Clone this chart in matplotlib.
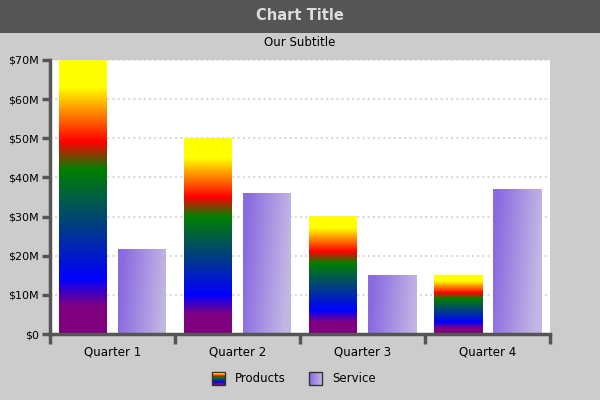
import numpy as np
import matplotlib
matplotlib.use('Agg')
import matplotlib.pyplot as plt
from matplotlib.colors import LinearSegmentedColormap, to_rgb
from matplotlib.patches import Rectangle
from matplotlib.image import BboxImage
from matplotlib.transforms import Bbox, TransformedBbox
from matplotlib.legend_handler import HandlerBase

# datos
quarters = ['Quarter 1', 'Quarter 2', 'Quarter 3', 'Quarter 4']
products = [70, 50, 30, 15]   # millones
service = [21.7, 35.8, 15, 37]
yticks = [0, 10, 20, 30, 40, 50, 60, 70]
ytick_labels = ['$0', '$10M', '$20M', '$30M', '$40M', '$50M', '$60M', '$70M']

plt.rcParams['font.family'] = ['DejaVu Sans']

# gradiente arcoiris vertical (abajo -> arriba)
rainbow = LinearSegmentedColormap.from_list('rainbow_bar', [
    (0.0, '#800080'), (0.1, '#800080'), (0.2, '#0000ff'),
    (0.6, '#008000'), (0.7, '#ff0000'), (0.9, '#ffff00'), (1.0, '#ffff00')])
c0 = np.array(to_rgb('#8a6ae0'))
c1 = np.array(to_rgb('#c2b6e4'))


def rainbow_img(n=256):
    return rainbow(np.linspace(0, 1, n))[:, None, :]


def service_img(hpx):
    xs = np.linspace(0, 1, 48)[None, :]
    ys = np.arange(max(int(hpx), 2))[:, None] / 274.0
    t = np.clip(1.05 * xs + 0.4 * ys - 0.1, 0, 1)
    img = c0[None, None, :] * (1 - t[..., None]) + c1[None, None, :] * t[..., None]
    return img


fig = plt.figure(figsize=(6, 4), dpi=100, facecolor='#cccccc')
ax = fig.add_axes([50/600, 66/400, 500/600, 274/400])
ax.set_facecolor('white')

# barra de titulo
fig.patches.append(Rectangle((0, 367/400), 1, 33/400, transform=fig.transFigure,
                             facecolor='#555555', edgecolor='none', zorder=0))
fig.text(0.5, 385/400, 'Chart Title', ha='center', va='center', color='#dddddd',
         fontsize=10.5, fontweight='bold')
fig.text(0.5, 358/400, 'Our Subtitle', ha='center', va='center', color='black', fontsize=8.5)

x = np.arange(len(quarters))
w = 0.384
off = 0.236
for i in range(len(quarters)):
    xp = x[i] - off
    ax.imshow(rainbow_img(), extent=[xp - w/2, xp + w/2, 0, products[i]],
              origin='lower', aspect='auto', zorder=2, interpolation='bilinear')
    xs = x[i] + off
    hpx = service[i] / 70 * 274
    ax.imshow(service_img(hpx), extent=[xs - w/2, xs + w/2, 0, service[i]],
              origin='upper', aspect='auto', zorder=2, interpolation='bilinear')

ax.set_xlim(-0.5, 3.5)
ax.set_ylim(0, 70)

for yv in yticks[1:]:
    ax.axhline(yv, color='#dadada', lw=1.5, linestyle=(0, (1, 1.5)),
               dash_capstyle='butt', zorder=1)

for s in ['top', 'right']:
    ax.spines[s].set_visible(False)
for s in ['left', 'bottom']:
    ax.spines[s].set_color('#555555')
    ax.spines[s].set_linewidth(2.5)
    ax.spines[s].set_zorder(5)
ax.spines['left'].set_bounds(0, 70)

ax.set_yticks(yticks)
ax.set_yticklabels(ytick_labels)
ax.set_xticks(x)
ax.set_xticklabels(quarters)
ax.set_xticks([-0.5, 0.5, 1.5, 2.5, 3.5], minor=True)
ax.tick_params(axis='y', length=6, width=2.5, color='#555555', labelsize=8, pad=2)
ax.tick_params(axis='x', which='major', length=0, labelsize=8.5, pad=8)
ax.tick_params(axis='x', which='minor', length=7, width=2.5, color='#555555')


class GradHandler(HandlerBase):
    def __init__(self, img):
        super().__init__()
        self.img = img

    def create_artists(self, legend, orig_handle, xdescent, ydescent, width, height,
                       fontsize, trans):
        s = 9
        x0 = -xdescent + (width - s) / 2
        y0 = -ydescent + (height - s) / 2
        bb = TransformedBbox(Bbox.from_bounds(x0, y0, s, s), trans)
        im = BboxImage(bb, origin='lower', interpolation='bilinear')
        im.set_data(self.img)
        r = Rectangle((x0, y0), s, s, facecolor='none', edgecolor='#333333', lw=1,
                      transform=trans)
        return [im, r]


h1 = Rectangle((0, 0), 1, 1)
h2 = Rectangle((0, 0), 1, 1)
leg_srv = np.clip(service_img(60)[::-1], 0, 1)
fig.legend([h1, h2], ['Products', 'Service'],
           handler_map={h1: GradHandler(rainbow_img()), h2: GradHandler(leg_srv)},
           loc='center', bbox_to_anchor=(0.49, 21/400), ncol=2, frameon=False,
           fontsize=8.5, handlelength=1.0, handletextpad=0.9, columnspacing=2.0)

plt.savefig('out.png', dpi=100, facecolor=fig.get_facecolor())
